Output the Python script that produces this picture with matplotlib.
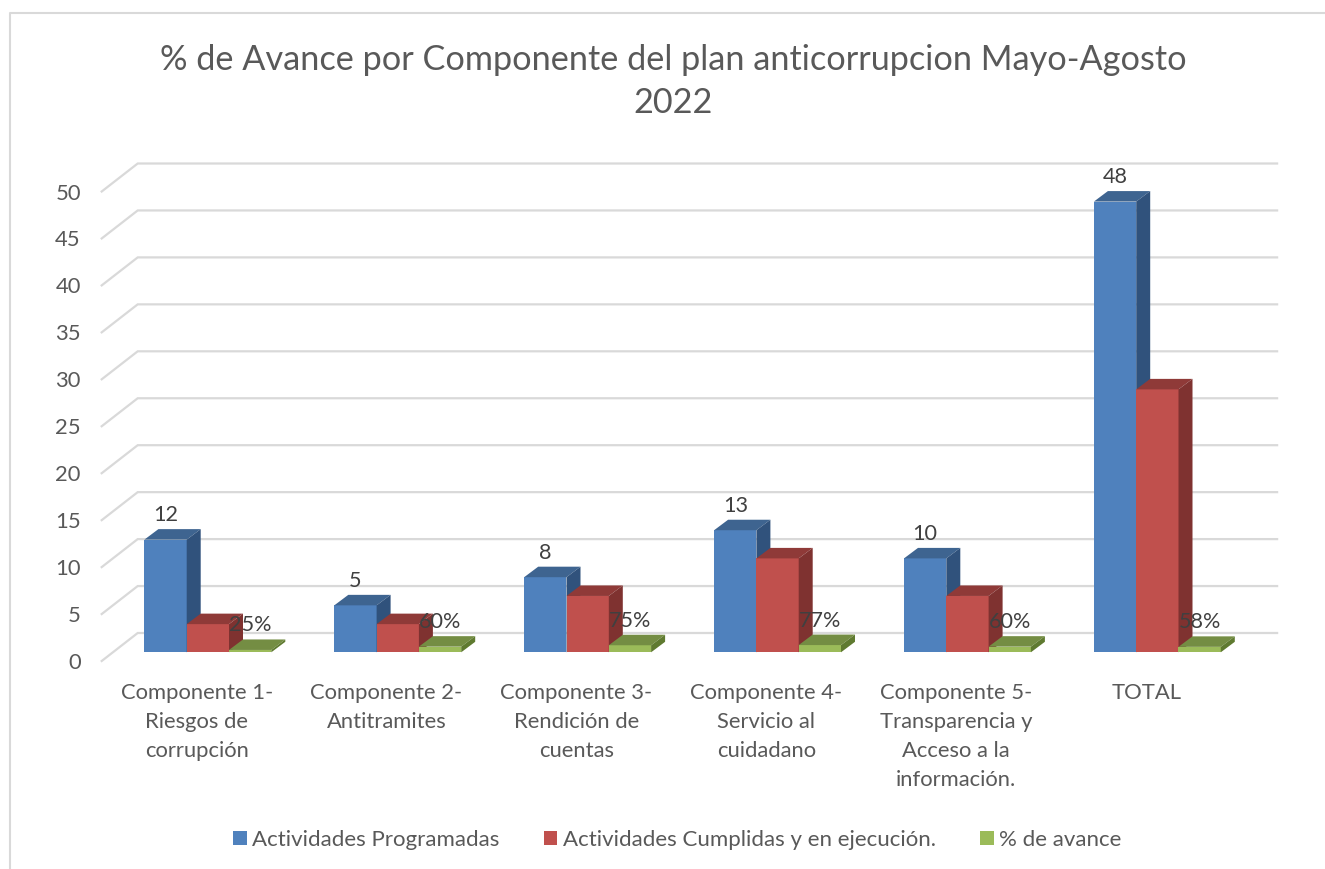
import matplotlib
matplotlib.use("Agg")
import matplotlib.pyplot as plt
from matplotlib.patches import Polygon, Rectangle
from matplotlib.lines import Line2D

plt.rcParams['font.family'] = ['Lato', 'DejaVu Sans']

categories = ["Componente 1-\nRiesgos de\ncorrupción", "Componente 2-\nAntitramites",
              "Componente 3-\nRendición de\ncuentas", "Componente 4-\nServicio al\ncuidadano",
              "Componente 5-\nTransparencia y\nAcceso a la\ninformación.", "TOTAL"]
programadas = [12, 5, 8, 13, 10, 48]
cumplidas = [3, 3, 6, 10, 6, 28]
avance = [0.25, 0.60, 0.75, 0.77, 0.60, 0.58]
yticks = [0, 5, 10, 15, 20, 25, 30, 35, 40, 45, 50]
series_names = ["Actividades Programadas", "Actividades Cumplidas y en ejecución.", "% de avance"]
title = "% de Avance por Componente del plan anticorrupcion Mayo-Agosto\n2022"

W, H = 1325, 869
TXT = '#595959'
LBL = '#404040'
GRID = '#D9D9D9'
fig = plt.figure(figsize=(W / 100, H / 100), dpi=100)
fig.patch.set_facecolor('white')

# axes = front plane of the 3-D box
L, R, T, B = 101.7, 1241.1, 191.5, 661.0
ax = fig.add_axes([L / W, 1 - B / H, (R - L) / W, (B - T) / H])
ax.set_xlim(-0.5, 5.5)
ax.set_ylim(0, 50)
ax.patch.set_alpha(0)
for s in ax.spines.values():
    s.set_visible(False)

sx = (R - L) / 6
sy = (B - T) / 50
px = lambda p: p / sx
py = lambda p: p / sy

# chart frame (left and top edges only reach the picture)
fig.add_artist(Line2D([10.5 / W, 10.5 / W, 1.0],
                      [0, 1 - 12.5 / H, 1 - 12.5 / H], color=GRID, lw=1.5))

# walls: gridlines
wx, wy = px(36), py(28)
for v in yticks:
    ax.plot([-0.5, -0.5 + wx, 5.5 + wx], [v, v + wy, v + wy], color=GRID, lw=1.6,
            clip_on=False, zorder=1, solid_joinstyle='miter')

bw = 42.3 / sx
bx0 = px(11.2)
lift = py(8.7)
dx, dy = px(14), py(10.5)
colors = [('#4F81BD', '#3E6490', '#30527C'),
          ('#C0504D', '#8F3A38', '#7F3230'),
          ('#9BBB59', '#748D43', '#5F7A30')]

for i in range(6):
    for k, (vals, cols) in enumerate(zip((programadas, cumplidas, avance), colors)):
        v = vals[i]
        x0 = i + bx0 + (k - 1.5) * bw
        x1 = x0 + bw
        y0 = lift
        y1 = lift + v
        z = 3 + i * 3 + k
        ax.add_patch(Rectangle((x0, y0), bw, v, fc=cols[0], ec='none', clip_on=False, zorder=z))
        ax.add_patch(Polygon([(x0, y1), (x1, y1), (x1 + dx, y1 + dy), (x0 + dx, y1 + dy)],
                             fc=cols[1], ec='none', clip_on=False, zorder=z))
        ax.add_patch(Polygon([(x1, y0), (x1 + dx, y0 + dy), (x1 + dx, y1 + dy), (x1, y1)],
                             fc=cols[2], ec='none', clip_on=False, zorder=z))
        if k != 1:
            lab = f"{v:.0%}" if k == 2 else str(v)
            ax.annotate(lab, xy=((x0 + x1) / 2, y1 + dy), xytext=(0, 14), textcoords='offset pixels',
                        ha='center', va='center', fontsize=15.6, color=LBL, zorder=100,
                        annotation_clip=False)

ax.set_xticks(range(6))
ax.set_xticklabels(categories, fontsize=15.8, color=TXT, linespacing=1.58, va='top')
ax.set_yticks(yticks)
ax.set_yticklabels([str(v) for v in yticks], fontsize=15.8, color=TXT)
ax.tick_params(axis='both', length=0)
ax.tick_params(axis='x', pad=15.5)
ax.tick_params(axis='y', pad=15)

fig.text(673.5 / W, 1 - 81.5 / H, title, ha='center', va='center', fontsize=24.7, color=TXT, linespacing=1.4)

handles = [Rectangle((0, 0), 1, 1, fc=c[0], ec='none') for c in colors]
fig.legend(handles, series_names, loc='center', bbox_to_anchor=(677.5 / W, 1 - 839.5 / H), ncol=3,
           frameon=False, fontsize=16, labelcolor=TXT, handlelength=0.6, handleheight=0.6,
           handletextpad=0.25, columnspacing=2.0)

fig.savefig('out.png', dpi=100)
